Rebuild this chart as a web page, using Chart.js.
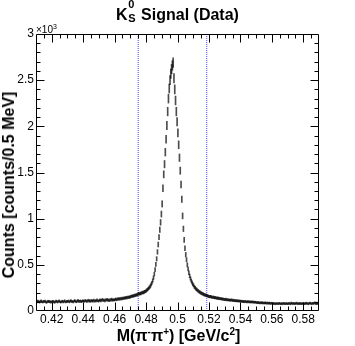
<!DOCTYPE html>
<html>
<head>
<meta charset="utf-8">
<script src="https://cdn.jsdelivr.net/npm/chart.js@4/dist/chart.umd.min.js"></script>
<style>
  html, body { margin: 0; padding: 0; background: #fff; }
  #wrap { position: relative; width: 355px; height: 346px; overflow: hidden; font-family: 'Liberation Sans', Arial, sans-serif; color: #000; }
  canvas { position: absolute; left: 0; top: 0; }
  .txt { position: absolute; white-space: nowrap; font-weight: bold; font-size: 16px; line-height: 18px; }
  .ss { display: inline-block; position: relative; width: 9px; height: 0; }
  .ss span { position: absolute; left: 0.5px; font-size: 11px; line-height: 11px; }
  .sp { font-size: 10px; position: relative; top: -6px; }
</style>
</head>
<body>
<div id="wrap">
  <canvas id="c" width="355" height="346"></canvas>
  <div class="txt" style="left:0; top:5.5px; width:355px; text-align:center;">K<span class="ss"><span style="bottom:9.5px">0</span><span style="bottom:-4.7px">S</span></span> Signal (Data)</div>
  <div class="txt" style="left:0; top:326.5px; width:357px; text-align:center;">M(π<span class="sp">-</span>π<span class="sp">+</span>) [GeV/c<span class="sp">2</span>]</div>
  <div class="txt" style="left:9.3px; top:184.5px; transform: translate(-50%,-50%) rotate(-90deg);">Counts [counts/0.5 MeV]</div>
  <div style="position:absolute; left:36px; top:24px; font-size:10px; line-height:12px; white-space:nowrap;">×10<span style="font-size:7px; position:relative; top:-4px;">3</span></div>
</div>
<script>
// ---- data ----
const binLow = 0.41;      // GeV, lower edge of first bin
const binWidth = 0.0005;  // GeV (0.5 MeV)
const counts = [
  // 0.410 - 0.420
  104, 98, 107, 101, 95, 103, 110, 99, 96, 105, 101, 108, 97, 93, 102, 106, 99, 104, 94, 100,
  // 0.420 - 0.430
  97, 105, 101, 92, 99, 108, 103, 96, 104, 110, 100, 95, 102, 107, 98, 103, 111, 97, 101, 106,
  // 0.430 - 0.440
  102, 109, 98, 106, 113, 101, 104, 97, 108, 112, 103, 99, 107, 115, 102, 105, 110, 100, 106, 111,
  // 0.440 - 0.450
  108, 104, 114, 111, 102, 109, 117, 106, 112, 103, 115, 110, 107, 118, 105, 113, 109, 120, 111, 106,
  // 0.450 - 0.460
  114, 121, 110, 118, 125, 113, 119, 108, 122, 116, 127, 115, 120, 111, 124, 118, 129, 116, 122, 119,
  // 0.460 - 0.470
  124, 130, 121, 128, 133, 126, 135, 129, 138, 132, 140, 136, 143, 139, 147, 141, 150, 146, 153, 149,
  // 0.470 - 0.480
  156, 162, 158, 166, 163, 171, 168, 176, 173, 182, 187, 184, 192, 189, 197, 201, 198, 206, 210, 214,
  // 0.480 - 0.490
  222, 230, 238, 247, 258, 270, 288, 305, 330, 362, 400, 448, 505, 565, 640, 720, 800, 880, 960, 1050,
  // 0.490 - 0.500
  1160, 1330, 1480, 1590, 1720, 1860, 2010, 2160, 2300, 2410, 2500, 2570, 2620, 2660, 2690, 2520, 2400, 2280, 2160, 2050,
  // 0.500 - 0.510
  1930, 1800, 1660, 1520, 1370, 1210, 1030, 890, 770, 680, 610, 555, 500, 455, 415, 380, 352, 328, 308, 290,
  // 0.510 - 0.520
  277, 260, 252, 238, 233, 222, 218, 207, 205, 196, 194, 186, 185, 178, 177, 170, 171, 164, 165, 158,
  // 0.520 - 0.530
  157, 154, 156, 150, 148, 151, 145, 143, 146, 140, 138, 141, 135, 137, 132, 134, 129, 131, 127, 126,
  // 0.530 - 0.540
  124, 128, 120, 123, 119, 122, 116, 118, 121, 114, 117, 112, 115, 110, 113, 109, 112, 107, 110, 106,
  // 0.540 - 0.550
  108, 103, 106, 101, 105, 99, 104, 100, 97, 102, 98, 101, 95, 99, 96, 100, 93, 97, 94, 96,
  // 0.550 - 0.560
  92, 88, 94, 90, 86, 91, 87, 93, 85, 89, 84, 90, 86, 83, 88, 82, 87, 84, 81, 86,
  // 0.560 - 0.570
  82, 78, 84, 80, 76, 83, 79, 81, 77, 85, 80, 78, 82, 76, 84, 79, 81, 77, 83, 80,
  // 0.570 - 0.580
  78, 84, 81, 76, 86, 82, 79, 85, 77, 83, 80, 87, 78, 82, 76, 84, 80, 78, 83, 79,
  // 0.580 - 0.590
  81, 77, 84, 79, 86, 80, 76, 83, 88, 81, 78, 85, 79, 84, 90, 82, 77, 86, 80, 83
];
const cutLines = [0.475, 0.5186];
const xTickValues = [0.42, 0.44, 0.46, 0.48, 0.50, 0.52, 0.54, 0.56, 0.58];
const xTickLabels = ['0.42', '0.44', '0.46', '0.48', '0.5', '0.52', '0.54', '0.56', '0.58'];
const yTickValues = [0, 500, 1000, 1500, 2000, 2500, 3000];
const yTickLabels = ['0', '0.5', '1', '1.5', '2', '2.5', '3'];

// ---- build datasets ----
const errBars = counts.map((v, i) => ({
  x: binLow + binWidth * (i + 0.5),
  y: [v - Math.sqrt(v), v + Math.sqrt(v)]
}));
const cutSets = cutLines.map(c => ({
  type: 'line',
  data: [{ x: c, y: 0 }, { x: c, y: 3000 }],
  borderColor: 'rgb(70,70,255)',
  borderWidth: 1,
  borderDash: [1, 1],
  pointRadius: 0,
  fill: false
}));

const FONT = "'Liberation Sans', Arial, sans-serif";

const framePlugin = {
  id: 'frameTicks',
  afterDraw(chart) {
    const ctx = chart.ctx;
    const a = chart.chartArea;
    const xs = chart.scales.x, ys = chart.scales.y;
    ctx.save();
    ctx.strokeStyle = '#000';
    ctx.lineWidth = 1;
    const L = Math.round(a.left) + 0.5, R = Math.round(a.right) - 0.5;
    const T = Math.round(a.top) + 0.5, B = Math.round(a.bottom) - 0.5;
    ctx.beginPath();
    ctx.rect(L, T, R - L, B - T);
    for (let k = 0; k <= 36; k++) {
      const v = 0.41 + k * 0.005;
      const isMajor = xTickValues.some(t => Math.abs(t - v) < 1e-6);
      const len = isMajor ? 8 : 4;
      const px = Math.round(xs.getPixelForValue(v)) + 0.5;
      if (px <= L + 0.1 || px >= R - 0.1) continue;
      ctx.moveTo(px, B); ctx.lineTo(px, B - len);
      ctx.moveTo(px, T); ctx.lineTo(px, T + len);
    }
    for (let k = 0; k <= 30; k++) {
      const v = k * 100;
      const isMajor = yTickValues.includes(v);
      const len = isMajor ? 8 : 4;
      const py = Math.round(ys.getPixelForValue(v)) + 0.5;
      if (py <= T + 0.1 || py >= B - 0.1) continue;
      ctx.moveTo(L, py); ctx.lineTo(L + len, py);
      ctx.moveTo(R, py); ctx.lineTo(R - len, py);
    }
    ctx.stroke();
    ctx.restore();
  }
};

new Chart(document.getElementById('c'), {
  type: 'bar',
  data: {
    datasets: [
      {
        type: 'bar',
        data: errBars,
        backgroundColor: 'rgba(0,0,0,0.7)',
        borderWidth: 0,
        barThickness: 1,
        grouped: false
      },
      ...cutSets
    ]
  },
  options: {
    responsive: false,
    animation: false,
    devicePixelRatio: 1,
    layout: { padding: { left: 0, right: 36, top: 34, bottom: 0 } },
    plugins: { legend: { display: false }, tooltip: { enabled: false }, title: { display: false } },
    scales: {
      x: {
        type: 'linear', min: 0.41, max: 0.59, offset: false,
        grid: { display: false, drawTicks: false },
        border: { display: false },
        afterBuildTicks: s => { s.ticks = xTickValues.map(v => ({ value: v })); },
        afterFit: s => { s.height = 35; },
        ticks: {
          padding: 1, maxRotation: 0, autoSkip: false,
          font: { family: FONT, size: 12 }, color: '#000',
          callback: (v) => { const i = xTickValues.findIndex(t => Math.abs(t - v) < 1e-6); return i >= 0 ? xTickLabels[i] : ''; }
        }
      },
      y: {
        type: 'linear', min: 0, max: 3000,
        grid: { display: false, drawTicks: false },
        border: { display: false },
        afterBuildTicks: s => { s.ticks = yTickValues.map(v => ({ value: v })); },
        afterFit: s => { s.width = 36; },
        ticks: {
          padding: 2, autoSkip: false,
          font: { family: FONT, size: 12 }, color: '#000',
          callback: (v) => { const i = yTickValues.indexOf(v); return i >= 0 ? yTickLabels[i] : ''; }
        }
      }
    }
  },
  plugins: [framePlugin]
});
</script>
</body>
</html>
